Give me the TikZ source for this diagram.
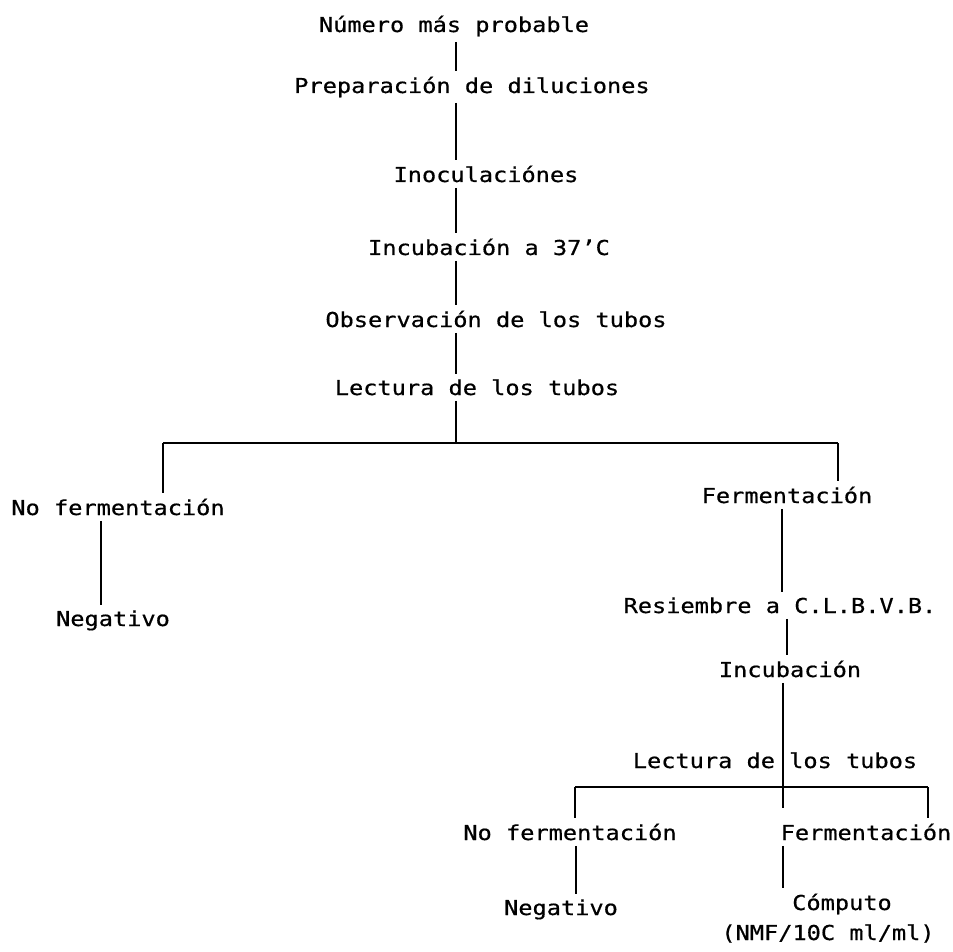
\documentclass[tikz,border=0pt]{standalone}
\usepackage{fontspec}
\newfontfamily\tw[FakeStretch=1.15,FakeBold=0.6]{DejaVu Sans Mono}
\begin{document}
\begin{tikzpicture}[x=0.75pt,y=-0.75pt,
  lbl/.style={font=\tw\fontsize{15.4pt}{17pt}\selectfont, inner sep=1.5pt, anchor=base},
  conn/.style={line width=1pt, shorten <=2.5pt, shorten >=2.5pt},
  hline/.style={line width=1pt}]
\useasboundingbox (0,0) rectangle (953,952);
% nodes
\node[lbl] (n1) at (454,32) {Número más probable};
\node[lbl] (n2) at (472,93) {Preparación de diluciones};
\node[lbl] (n3) at (486,182) {Inoculaciónes};
\node[lbl] (n4) at (489,255) {Incubación a 37’C};
\node[lbl] (n5) at (496,327) {Observación de los tubos};
\node[lbl] (n6) at (477,395) {Lectura de los tubos};
\node[lbl] (n7) at (118,515) {No fermentación};
\node[lbl] (n8) at (113,626) {Negativo};
\node[lbl] (n9) at (787,503) {Fermentación};
\node[lbl] (n10) at (780,613) {Resiembre a C.L.B.V.B.};
\node[lbl] (n11) at (790,677) {Incubación};
\node[lbl] (n12) at (775,768) {Lectura de los tubos};
\node[lbl] (n13) at (570,840) {No fermentación};
\node[lbl] (n14) at (866,840) {Fermentación};
\node[lbl] (n15) at (561,915) {Negativo};
\node[lbl] (n16) at (842,910) {Cómputo};
\node[lbl] (n17) at (828,940) {(NMF/10C ml/ml)};
% coordinates
\coordinate (v1) at (456,0);
\coordinate (h1) at (456,443);
\coordinate (h1l) at (163,443);
\coordinate (h1r) at (838,443);
\coordinate (vl) at (101,0);
\coordinate (vr1) at (782,0);
\coordinate (vr2) at (787,0);
\coordinate (h2) at (783,787);
\coordinate (h2l) at (575,787);
\coordinate (h2r) at (928,787);
\coordinate (stub) at (783,808);
\coordinate (vl2) at (576,0);
% connectors
\draw[conn] (n1.south -| v1) -- (n2.north -| v1);
\draw[conn] (n2.south -| v1) -- (n3.north -| v1);
\draw[conn] (n3.south -| v1) -- (n4.north -| v1);
\draw[conn] (n4.south -| v1) -- (n5.north -| v1);
\draw[conn] (n5.south -| v1) -- (n6.north -| v1);
\draw[conn, shorten >=0pt] (n6.south -| v1) -- (h1);
\draw[hline] (h1l) -- (h1r);
\draw[conn, shorten <=0pt] (h1l) -- (n7.north -| h1l);
\draw[conn, shorten <=0pt] (h1r) -- (n9.north -| h1r);
\draw[conn] (n7.south -| vl) -- (n8.north -| vl);
\draw[conn] (n9.south -| vr1) -- (n10.north -| vr1);
\draw[conn] (n10.south -| vr2) -- (n11.north -| vr2);
\draw[conn, shorten >=0pt] (n11.south -| h2) -- (stub);
\draw[hline] (h2l) -- (h2r);
\draw[conn, shorten <=0pt] (h2l) -- (n13.north -| h2l);
\draw[conn, shorten <=0pt] (h2r) -- (n14.north -| h2r);
\draw[conn] (n13.south -| vl2) -- (n15.north -| vl2);
\draw[conn] (n14.south -| h2) -- (n16.north -| h2);
\end{tikzpicture}
\end{document}
